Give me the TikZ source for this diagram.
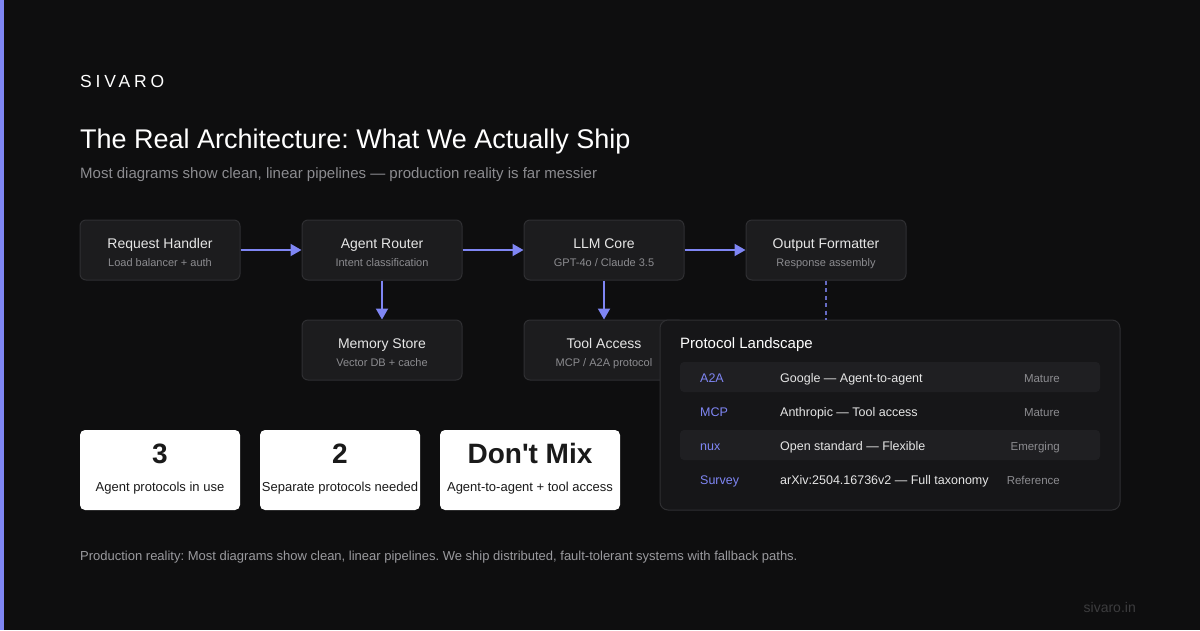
\documentclass[tikz,border=0pt]{standalone}
\usepackage{fontspec}
\setmainfont{Liberation Sans}
\newfontfamily\logofont[LetterSpace=22]{Liberation Sans}
\usetikzlibrary{arrows.meta}
\frenchspacing
\definecolor{bg}{HTML}{0E0E0F}
\definecolor{accent}{HTML}{7F86F4}
\definecolor{boxfill}{HTML}{1C1C1E}
\definecolor{boxline}{HTML}{2F2F32}
\definecolor{panelfill}{HTML}{161618}
\definecolor{rowfill}{HTML}{1F1F22}
\definecolor{txtmain}{HTML}{E6E6E6}
\definecolor{txtsub}{HTML}{8C8C90}
\definecolor{statdark}{HTML}{1A1A1A}
\definecolor{footgray}{HTML}{9A9A9E}
\definecolor{sitegray}{HTML}{3C3C3E}
\tikzset{
  compbox/.style={draw=boxline, line width=1pt, fill=boxfill, rounded corners=6pt, minimum width=160pt, minimum height=60pt, inner sep=0pt},
  comptitle/.style={text=txtmain, font=\fontsize{14}{16}\selectfont, inner sep=0pt, anchor=base},
  compsub/.style={text=txtsub, font=\fontsize{11}{13}\selectfont, inner sep=0pt, anchor=base},
  flow/.style={draw=accent, line width=2pt, -{Triangle[length=11pt,width=12pt]}},
  dashflow/.style={draw=accent!80!black, line width=2pt, dash pattern=on 4pt off 3.5pt},
  statbox/.style={fill=white, rounded corners=5pt, minimum height=80pt, inner sep=0pt},
  statnum/.style={text=statdark, font=\bfseries\fontsize{28}{32}\selectfont, inner sep=0pt, anchor=base},
  statlab/.style={text=statdark, font=\fontsize{13}{15}\selectfont, inner sep=0pt, anchor=base},
  protoname/.style={text=accent, font=\fontsize{12.5}{15}\selectfont, anchor=base west, inner sep=0pt},
  protodesc/.style={text=txtmain, font=\fontsize{12.5}{15}\selectfont, anchor=base west, inner sep=0pt},
  protostat/.style={text=txtsub, font=\fontsize{11.5}{14}\selectfont, anchor=base east, inner sep=0pt},
  rowbg/.style={fill=rowfill, rounded corners=4pt, draw=none},
}
\begin{document}
\begin{tikzpicture}[x=1pt,y=-1pt]
\useasboundingbox (0,0) rectangle (1200,630);
\fill[bg] (0,0) rectangle (1200,630);
\fill[accent] (0,0) rectangle (4,630);

% header
\node[anchor=base west, inner sep=0pt, text=white, font=\logofont\fontsize{17.5}{20}\selectfont] (logo) at (80,87) {SIVARO};
\node[anchor=base west, inner sep=0pt, text=white, font=\fontsize{27}{31}\selectfont] (title) at (80,148) {The Real Architecture: What We Actually Ship};
\node[anchor=base west, inner sep=0pt, text=txtsub, font=\fontsize{15}{18}\selectfont] (subtitle) at (80,178) {Most diagrams show clean, linear pipelines --- production reality is far messier};

% component boxes
\node[compbox] (rh) at (160,250) {};
\node[compbox] (ar) at (382,250) {};
\node[compbox] (llm) at (604,250) {};
\node[compbox] (of) at (826,250) {};
\node[compbox] (ms) at (382,350) {};
\node[compbox] (ta) at (604,350) {};

\node[comptitle] (rht) at (160,248) {Request Handler};
\node[compsub] (rhs) at (160,266) {Load balancer + auth};
\node[comptitle] (art) at (382,248) {Agent Router};
\node[compsub] (ars) at (382,266) {Intent classification};
\node[comptitle] (llmt) at (604,248) {LLM Core};
\node[compsub] (llms) at (604,266) {GPT-4o / Claude 3.5};
\node[comptitle] (oft) at (826,248) {Output Formatter};
\node[compsub] (ofs) at (826,266) {Response assembly};
\node[comptitle] (mst) at (382,348) {Memory Store};
\node[compsub] (mss) at (382,366) {Vector DB + cache};
\node[comptitle] (tat) at (604,348) {Tool Access};
\node[compsub] (tas) at (604,366) {MCP / A2A protocol};

% connectors
\draw[flow] (rh.east) -- (ar.west);
\draw[flow] (ar.east) -- (llm.west);
\draw[flow] (llm.east) -- (of.west);
\draw[flow] (ar.south) -- (ms.north);
\draw[flow] (llm.south) -- (ta.north);

% protocol panel
\node[draw=boxline, line width=1pt, fill=panelfill, rounded corners=8pt, minimum width=460pt, minimum height=190pt, inner sep=0pt] (panel) at (890,415) {};
\coordinate (ptop) at (826,320);
\draw[dashflow] (of.south) -- (ptop);
\node[anchor=base west, inner sep=0pt, text=white, font=\fontsize{15}{18}\selectfont] (ptitle) at (680,348) {Protocol Landscape};

\fill[rowbg] (680,362) rectangle (1100,392);
\fill[rowbg] (680,430) rectangle (1100,460);

\node[protoname] (n1) at (700,382.5) {A2A};
\node[protodesc] (d1) at (780,382.5) {Google --- Agent-to-agent};
\node[protostat] (s1) at (1060,382) {Mature};
\node[protoname] (n2) at (700,416.5) {MCP};
\node[protodesc] (d2) at (780,416.5) {Anthropic --- Tool access};
\node[protostat] (s2) at (1060,416) {Mature};
\node[protoname] (n3) at (700,450.5) {nux};
\node[protodesc] (d3) at (780,450.5) {Open standard --- Flexible};
\node[protostat] (s3) at (1060,450) {Emerging};
\node[protoname] (n4) at (700,484.5) {Survey};
\node[protodesc] (d4) at (780,484.5) {arXiv:2504.16736v2 --- Full taxonomy};
\node[protostat] (s4) at (1060,484) {Reference};

% stat boxes
\node[statbox, minimum width=160pt] (st1) at (160,470) {};
\node[statbox, minimum width=160pt] (st2) at (340,470) {};
\node[statbox, minimum width=180pt] (st3) at (530,470) {};
\node[statnum] (st1n) at (160,463) {3};
\node[statlab] (st1l) at (160,491) {Agent protocols in use};
\node[statnum] (st2n) at (340,463) {2};
\node[statlab] (st2l) at (340,491) {Separate protocols needed};
\node[statnum] (st3n) at (530,463) {Don\textquotesingle t Mix};
\node[statlab] (st3l) at (530,491) {Agent-to-agent + tool access};

% footer
\node[anchor=base west, inner sep=0pt, text=footgray, font=\fontsize{13}{15}\selectfont] (foot) at (80,560) {Production reality: Most diagrams show clean, linear pipelines. We ship distributed, fault-tolerant systems with fallback paths.};
\node[anchor=base east, inner sep=0pt, text=sitegray, font=\fontsize{14}{16}\selectfont] (site) at (1136,612) {sivaro.in};
\end{tikzpicture}
\end{document}
